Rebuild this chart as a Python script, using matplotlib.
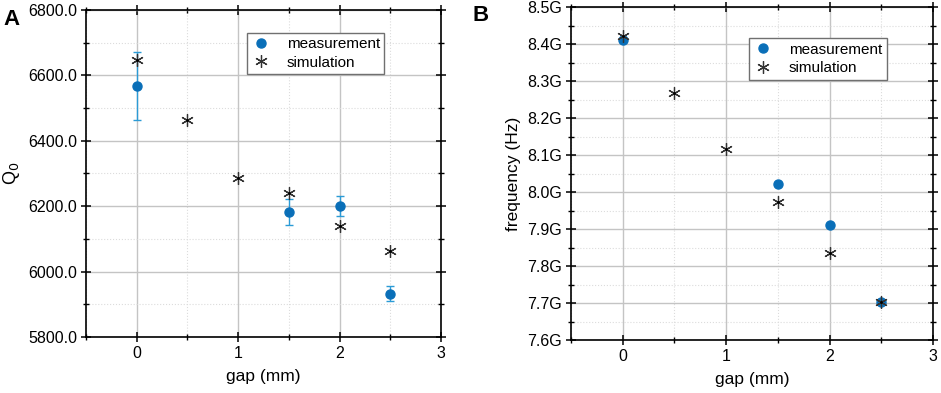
import numpy as np
import matplotlib.pyplot as plt
from matplotlib.ticker import MultipleLocator, FuncFormatter

plt.rcParams['font.family'] = ['Liberation Sans', 'DejaVu Sans']

# gap values (mm)
gap_meas = [0, 1.5, 2, 2.5]
gap_sim = [0, 0.5, 1, 1.5, 2, 2.5]

# panel A: quality factor
q_meas = [6568, 6182, 6200, 5932]
q_err = [103, 40, 30, 23]
q_sim = [6648, 6463, 6285, 6239, 6138, 6063]

# panel B: frequency (GHz)
f_meas = [8.412, 8.023, 7.910, 7.703]
f_sim = [8.423, 8.268, 8.118, 7.974, 7.834, 7.704]

blue = '#0a6fb8'
err_blue = '#2b9bd6'
star = (6, 2, 0)

fig = plt.figure(figsize=(9.41, 3.93), dpi=100)
axA = fig.add_axes([0.0914, 0.1425, 0.3773, 0.8321])
axB = fig.add_axes([0.6068, 0.1349, 0.3847, 0.8465])


def style(ax):
    ax.set_xlim(-0.5, 3)
    ax.xaxis.set_major_locator(MultipleLocator(1))
    ax.xaxis.set_minor_locator(MultipleLocator(0.5))
    ax.grid(True, which='major', color='#c4c4c4', lw=1.0)
    ax.grid(True, which='minor', color='#dcdcdc', lw=0.8, ls=':')
    ax.set_axisbelow(True)
    ax.tick_params(which='major', direction='inout', length=7, width=1.1,
                   top=True, right=True, labelsize=11.5, pad=3)
    ax.tick_params(which='minor', direction='inout', length=4, width=1.0,
                   top=True, right=True)
    for s in ax.spines.values():
        s.set_linewidth(1.2)
    ax.set_xlabel('gap (mm)', fontsize=12.5, labelpad=6)


def legend(ax, x, y):
    leg = ax.legend(loc='upper left', bbox_to_anchor=(x, y), fontsize=11,
                    fancybox=False, edgecolor='#707070', framealpha=1,
                    handlelength=1.2, handletextpad=1.1, borderpad=0.3,
                    labelspacing=0.3, borderaxespad=0)
    leg.get_frame().set_linewidth(1.0)


# panel A
axA.errorbar(gap_meas, q_meas, yerr=q_err, fmt='none', ecolor=err_blue,
             elinewidth=1.0, capsize=3, capthick=1.0, zorder=3)
axA.plot(gap_meas, q_meas, 'o', color=blue, ms=6.5, label='measurement', zorder=4)
axA.plot(gap_sim, q_sim, ls='none', marker=star, color='#333333', ms=9,
         mew=0.9, label='simulation', zorder=5)
axA.plot(gap_sim, q_sim, ls='none', marker='.', color='black', ms=2, zorder=6)
style(axA)
axA.set_ylim(5800, 6800)
axA.yaxis.set_major_locator(MultipleLocator(200))
axA.yaxis.set_minor_locator(MultipleLocator(100))
axA.yaxis.set_major_formatter(FuncFormatter(lambda v, p: f'{v:.1f}'))
axA.set_ylabel('Q$_0$', fontsize=13, labelpad=4)
legend(axA, 0.453, 0.931)

# panel B
axB.plot(gap_meas, f_meas, 'o', color=blue, ms=6.5, label='measurement', zorder=4)
axB.plot(gap_sim, f_sim, ls='none', marker=star, color='#333333', ms=9,
         mew=0.9, label='simulation', zorder=5)
axB.plot(gap_sim, f_sim, ls='none', marker='.', color='black', ms=2, zorder=6)
style(axB)
axB.set_ylim(7.6, 8.5)
axB.yaxis.set_major_locator(MultipleLocator(0.1))
axB.yaxis.set_minor_locator(MultipleLocator(0.05))
axB.yaxis.set_major_formatter(FuncFormatter(lambda v, p: f'{v:.1f}G'))
axB.set_ylabel('frequency (Hz)', fontsize=12.5, labelpad=4)
legend(axB, 0.492, 0.907)

fig.text(0.004, 0.978, 'A', fontsize=16, fontweight='bold', va='top')
fig.text(0.502, 0.988, 'B', fontsize=16, fontweight='bold', va='top')

fig.savefig('out.png', dpi=100)
